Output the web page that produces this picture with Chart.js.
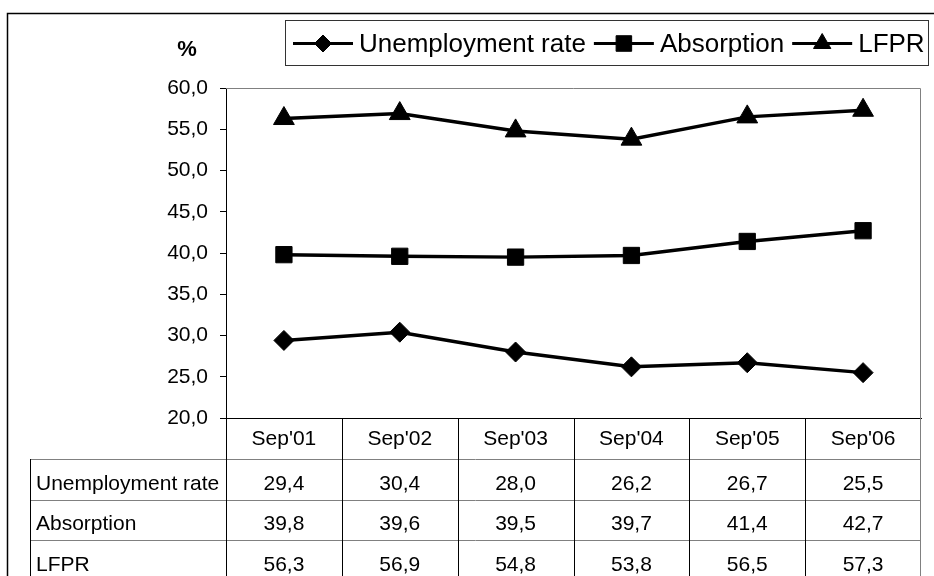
<!DOCTYPE html>
<html>
<head>
<meta charset="utf-8">
<script src="https://cdn.jsdelivr.net/npm/chart.js@4.4.0/dist/chart.umd.min.js"></script>
<style>
  html, body { margin: 0; padding: 0; background: #fff; }
  canvas { display: block; }
</style>
</head>
<body>
<canvas id="chart" width="934" height="576"></canvas>
<script>
const categories = ["Sep'01", "Sep'02", "Sep'03", "Sep'04", "Sep'05", "Sep'06"];
const unemploymentRate = [29.4, 30.4, 28.0, 26.2, 26.7, 25.5];
const absorption = [39.8, 39.6, 39.5, 39.7, 41.4, 42.7];
const lfpr = [56.3, 56.9, 54.8, 53.8, 56.5, 57.3];
const seriesNames = ['Unemployment rate', 'Absorption', 'LFPR'];
const yMin = 20, yMax = 60, yStep = 5;
const yUnit = '%';

const FONT = 'Arial, "Liberation Sans", sans-serif';
const fmt = v => v.toFixed(1).replace('.', ',');

// legend marker sizes are a bit smaller than the plotted ones
const legendRadius = [8.5, 11, 10];

const frameTable = {
  id: 'frameTable',
  afterDraw(chart) {
    const ctx = chart.ctx;
    const a = chart.chartArea;
    const xs = chart.scales.x;
    const half = (a.right - a.left) / categories.length / 2;
    const H = chart.height;
    const labelLeft = 30;
    const rowTop = a.bottom + 41;
    const rowH = 40.5;
    const rows = chart.data.datasets;

    ctx.save();
    // outer frame
    ctx.strokeStyle = '#000';
    ctx.lineWidth = 1.5;
    ctx.strokeRect(7.5, 13.5, chart.width + 20, H + 20);

    // plot area top / right edges
    ctx.lineWidth = 1;
    ctx.strokeStyle = '#808080';
    ctx.beginPath();
    ctx.moveTo(a.left, a.top + 0.5);
    ctx.lineTo(a.right - 0.5, a.top + 0.5);
    ctx.lineTo(a.right - 0.5, H);
    ctx.stroke();

    // table horizontal lines
    ctx.beginPath();
    for (let r = 0; r < rows.length; r++) {
      const y = Math.round(rowTop + r * rowH) + 0.5;
      ctx.moveTo(labelLeft, y);
      ctx.lineTo(a.right, y);
    }
    ctx.stroke();

    // table vertical lines
    ctx.strokeStyle = '#000';
    ctx.beginPath();
    ctx.moveTo(a.left + 0.5, a.bottom);
    ctx.lineTo(a.left + 0.5, H);
    ctx.moveTo(labelLeft + 0.5, rowTop);
    ctx.lineTo(labelLeft + 0.5, H);
    for (let i = 1; i < categories.length; i++) {
      const x = Math.round(xs.getPixelForValue(i) - half) + 0.5;
      ctx.moveTo(x, a.bottom);
      ctx.lineTo(x, H);
    }
    ctx.stroke();

    // table text
    ctx.fillStyle = '#000';
    ctx.font = '21px ' + FONT;
    ctx.textBaseline = 'alphabetic';
    rows.forEach((ds, r) => {
      const base = rowTop + r * rowH + 30.5;
      ctx.textAlign = 'left';
      ctx.fillText(ds.label, 36, base);
      ctx.textAlign = 'center';
      ds.data.forEach((v, i) => {
        ctx.fillText(fmt(v), xs.getPixelForValue(i), base);
      });
    });

    // unit label
    ctx.font = 'bold 22px ' + FONT;
    ctx.textAlign = 'center';
    ctx.fillText(yUnit, 187, 56);

    // legend box
    const boxL = 285, boxT = 20, boxR = 928, boxB = 65;
    ctx.strokeStyle = '#333';
    ctx.lineWidth = 1;
    ctx.strokeRect(boxL + 0.5, boxT + 0.5, boxR - boxL, boxB - boxT);
    ctx.font = '26px ' + FONT;
    ctx.textAlign = 'left';
    const cy = 43.5;
    let x = 293;
    rows.forEach((ds, r) => {
      ctx.strokeStyle = '#000';
      ctx.fillStyle = '#000';
      ctx.lineWidth = 3;
      ctx.beginPath();
      ctx.moveTo(x, cy);
      ctx.lineTo(x + 60, cy);
      ctx.stroke();
      ctx.lineWidth = 1;
      Chart.helpers.drawPoint(ctx, {
        pointStyle: ds.pointStyle, radius: legendRadius[r], borderWidth: 1, rotation: 0
      }, x + 30, cy);
      ctx.fillText(ds.label, x + 66, 52);
      x += 66 + ctx.measureText(ds.label).width + 8;
    });
    ctx.restore();
  }
};

const seriesData = [unemploymentRate, absorption, lfpr];
const styles = ['rectRot', 'rect', 'triangle'];
const radii = [10, 11.5, 12];

new Chart(document.getElementById('chart').getContext('2d'), {
  type: 'line',
  data: {
    labels: categories,
    datasets: seriesNames.map((name, i) => ({
      label: name,
      data: seriesData[i],
      borderColor: '#000',
      backgroundColor: '#000',
      borderWidth: 3.5,
      pointStyle: styles[i],
      pointRadius: radii[i],
      pointBorderWidth: 1,
      pointBackgroundColor: '#000',
      pointBorderColor: '#000',
      tension: 0
    }))
  },
  options: {
    responsive: false,
    animation: false,
    devicePixelRatio: 1,
    layout: { padding: { top: 88, right: 5, left: 0, bottom: 0 } },
    plugins: { legend: { display: false }, tooltip: { enabled: false } },
    scales: {
      x: {
        offset: true,
        grid: { display: false, drawTicks: false },
        border: { display: true, color: '#000', width: 1 },
        ticks: {
          color: '#000', font: { family: FONT, size: 21 },
          padding: 9, maxRotation: 0, autoSkip: false
        },
        afterFit: s => { s.height = 158; }
      },
      y: {
        min: yMin,
        max: yMax,
        ticks: {
          stepSize: yStep, color: '#000', font: { family: FONT, size: 21 },
          padding: 12, callback: v => fmt(v)
        },
        grid: { drawOnChartArea: false, drawTicks: true, tickLength: 6, color: '#000' },
        border: { display: true, color: '#000', width: 1 },
        afterFit: s => { s.width = 226; }
      }
    }
  },
  plugins: [frameTable]
});
</script>
</body>
</html>
